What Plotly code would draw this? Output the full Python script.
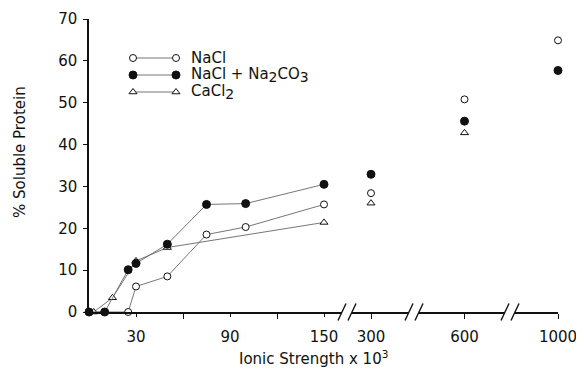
import plotly.graph_objects as go

# ---------------- data ----------------
low_tickvals = [30, 90, 150]
low_minorvals = [60, 120]
high_cats = ["300", "600", "1000"]
y_tickvals = [0, 10, 20, 30, 40, 50, 60, 70]

nacl_x = [0, 25, 30, 50, 75, 100, 150]
nacl_y = [0, 0, 6.1, 8.5, 18.5, 20.3, 25.7]
nacl_hi_x = ["300", "600", "1000"]
nacl_hi_y = [28.4, 50.8, 64.9]

mix_x = [0, 10, 25, 30, 50, 75, 100, 150]
mix_y = [0, 0, 10.1, 11.6, 16.2, 25.7, 25.9, 30.5]
mix_hi_x = ["300", "600", "1000"]
mix_hi_y = [32.9, 45.6, 57.7]

cacl_x = [3, 15, 30, 50, 150]
cacl_y = [0, 3.4, 12.2, 15.4, 21.4]
cacl_hi_x = ["300", "600"]
cacl_hi_y = [26.0, 42.8]

SUB = '<sub><span style="font-size:14px">{}</span></sub>'
legend_names = ["NaCl",
                "NaCl + Na" + SUB.format("2") + "CO" + SUB.format("3"),
                "CaCl" + SUB.format("2")]

# ---------------- layout geometry ----------------
# the page shows the figure with an 8px body margin
OFF = 8
PAGE_W, PAGE_H = 584, 369
PL, PT, PR, PB = 89, 19, 558, 312          # plot area on the page
W, H = PAGE_W - OFF, PAGE_H - OFF
ML, MT = PL - OFF, PT - OFF
MR, MB = W - (PR - OFF), H - (PB - OFF)
PW, PH = PR - PL, PB - PT

def px_x(px):
    return (px - PL) / PW

def px_y(py):
    return (PB - py) / PH

FONT = "DejaVu Sans"
LINE_C = "#666666"
BLK = "#111111"

open_circle = dict(symbol="circle", size=7, color="white", line=dict(color=BLK, width=1))
filled_circle = dict(symbol="circle", size=8, color=BLK, line=dict(color=BLK, width=1))
open_tri = dict(symbol="triangle-up", size=7, color="white", line=dict(color=BLK, width=1))
styles = [open_circle, filled_circle, open_tri]

fig = go.Figure()

# low range (connected)
fig.add_trace(go.Scatter(x=nacl_x, y=nacl_y, mode="lines+markers", xaxis="x", yaxis="y",
                         line=dict(color=LINE_C, width=0.9), marker=open_circle,
                         cliponaxis=False, showlegend=False))
fig.add_trace(go.Scatter(x=cacl_x, y=cacl_y, mode="lines+markers", xaxis="x", yaxis="y",
                         line=dict(color=LINE_C, width=0.9), marker=open_tri,
                         cliponaxis=False, showlegend=False))
fig.add_trace(go.Scatter(x=mix_x, y=mix_y, mode="lines+markers", xaxis="x", yaxis="y",
                         line=dict(color=LINE_C, width=0.9), marker=filled_circle,
                         cliponaxis=False, showlegend=False))
# high range (unconnected)
fig.add_trace(go.Scatter(x=nacl_hi_x, y=nacl_hi_y, mode="markers", xaxis="x2", yaxis="y",
                         marker=open_circle, cliponaxis=False, showlegend=False))
fig.add_trace(go.Scatter(x=cacl_hi_x, y=cacl_hi_y, mode="markers", xaxis="x2", yaxis="y",
                         marker=open_tri, cliponaxis=False, showlegend=False))
fig.add_trace(go.Scatter(x=mix_hi_x, y=mix_hi_y, mode="markers", xaxis="x2", yaxis="y",
                         marker=filled_circle, cliponaxis=False, showlegend=False))

# custom legend (marker - line - marker)
leg_rows_px = [58, 75, 92]
for name, st, ry in zip(legend_names, styles, leg_rows_px):
    yy = px_y(ry)
    fig.add_trace(go.Scatter(x=[px_x(133), px_x(176)], y=[yy, yy], mode="lines+markers",
                             xaxis="x5", yaxis="y5", line=dict(color=LINE_C, width=0.9),
                             marker=st, cliponaxis=False, showlegend=False, hoverinfo="skip"))
    fig.add_annotation(x=px_x(189), y=yy, xref="paper", yref="paper", text=name,
                       showarrow=False, xanchor="left", yanchor="middle",
                       font=dict(family=FONT, size=15, color=BLK))

tickfont = dict(family=FONT, size=15, color=BLK)
x1_end = px_x(342)
x2_start = px_x(352)
cat_step_px = 93.5
x2_r0 = 2 - (PR - 352) / cat_step_px

common_x = dict(showgrid=False, zeroline=False, linecolor=BLK, linewidth=1.5,
                tickcolor=BLK, tickwidth=1.3, tickfont=tickfont, automargin=False)

fig.update_layout(
    width=W, height=H, margin=dict(l=ML, r=MR, t=MT, b=MB, autoexpand=False),
    paper_bgcolor="white", plot_bgcolor="rgba(0,0,0,0)",
    xaxis=dict(domain=[0, x1_end], range=[0, (342 - PL) / 1.5667], anchor="y",
               showline=True, tickmode="array", tickvals=low_tickvals,
               ticktext=[str(v) for v in low_tickvals], ticks="outside", ticklen=3,
               ticklabelstandoff=7,
               minor=dict(tickmode="array", tickvals=low_minorvals, ticks="outside",
                          ticklen=5, tickcolor=BLK, tickwidth=1.3),
               **common_x),
    xaxis3=dict(overlaying="x", matches="x", anchor="y", showline=False,
                tickmode="array", tickvals=low_tickvals, showticklabels=False,
                ticks="inside", ticklen=3, automargin=False,
                minor=dict(tickmode="array", tickvals=low_minorvals, ticks="inside",
                           ticklen=5, tickcolor=BLK, tickwidth=1.3),
                showgrid=False, zeroline=False, tickcolor=BLK, tickwidth=1.3),
    xaxis2=dict(domain=[x2_start, 1], type="category", categoryorder="array",
                categoryarray=high_cats, range=[x2_r0, 2], anchor="y",
                showline=True, ticks="outside", ticklen=5, ticklabelstandoff=5,
                **common_x),
    xaxis4=dict(overlaying="x2", matches="x2", anchor="y", type="category",
                categoryorder="array", categoryarray=high_cats, showline=False,
                showticklabels=False, ticks="inside", ticklen=5, automargin=False,
                showgrid=False, zeroline=False, tickcolor=BLK, tickwidth=1.3),
    yaxis=dict(domain=[0, 1], range=[0, 70], anchor="x", showline=True,
               tickmode="array", tickvals=y_tickvals, ticks="outside", ticklen=4,
               ticklabelstandoff=3, showgrid=False, zeroline=False, automargin=False,
               linecolor=BLK, linewidth=1.5, tickcolor=BLK, tickwidth=1.3,
               tickfont=tickfont),
    yaxis2=dict(overlaying="y", matches="y", anchor="x", side="left", showline=False,
                tickmode="array", tickvals=y_tickvals, ticks="inside", ticklen=4,
                showticklabels=False, showgrid=False, zeroline=False, automargin=False,
                tickcolor=BLK, tickwidth=1.3),
    xaxis5=dict(domain=[0, 1], range=[0, 1], anchor="y5", visible=False, automargin=False),
    yaxis5=dict(domain=[0, 1], range=[0, 1], anchor="x5", visible=False, automargin=False),
)

# axis break marks "//"
breaks_px = [347, 414, 510]
for c in breaks_px:
    fig.add_shape(type="rect", xref="paper", yref="paper",
                  x0=px_x(c - 5), x1=px_x(c + 5), y0=px_y(PB + 2), y1=px_y(PB - 2),
                  fillcolor="white", line=dict(width=0), layer="above")
    for off in (-5, 5):
        fig.add_shape(type="line", xref="paper", yref="paper",
                      x0=px_x(c + off - 4), y0=px_y(PB + 8.5),
                      x1=px_x(c + off + 4), y1=px_y(PB - 8.5),
                      line=dict(color=BLK, width=1.4), layer="above")

# axis titles
fig.add_annotation(x=px_x(313), y=px_y(358), xref="paper", yref="paper",
                   text="Ionic Strength x 10<sup>3</sup>", showarrow=False,
                   xanchor="center", yanchor="middle",
                   font=dict(family=FONT, size=15, color=BLK))
fig.add_annotation(x=px_x(20), y=px_y(152), xref="paper", yref="paper",
                   text="% Soluble Protein", showarrow=False, textangle=-90,
                   xanchor="center", yanchor="middle",
                   font=dict(family=FONT, size=15, color=BLK))

fig.write_html("out.html")
